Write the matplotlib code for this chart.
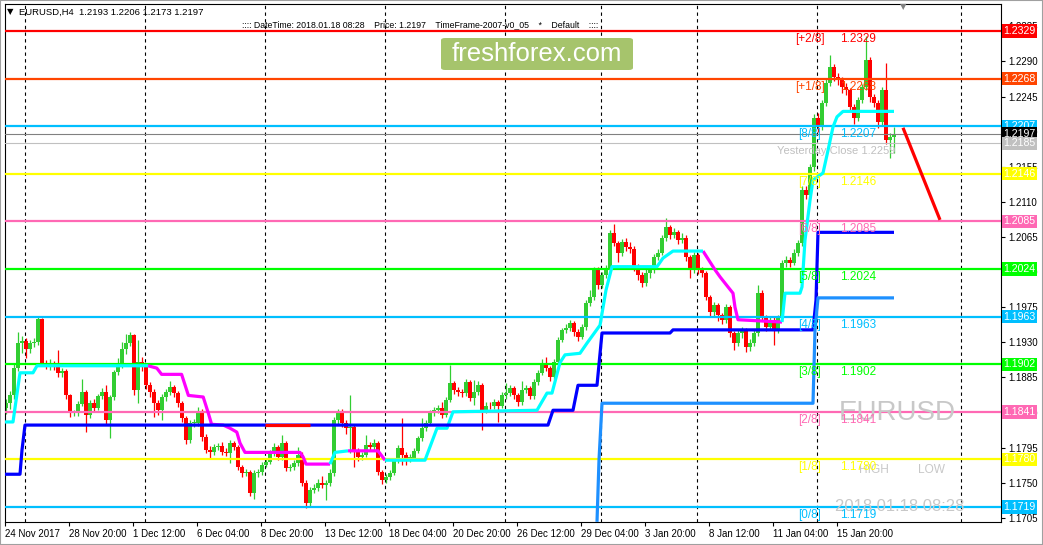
import numpy as np
import matplotlib
matplotlib.use('Agg')
import matplotlib.pyplot as plt
from matplotlib.patches import FancyBboxPatch, Rectangle
import matplotlib.transforms as mtransforms

plt.rcParams['font.family'] = ['Liberation Sans', 'DejaVu Sans']

# ---- EURUSD H4 candles (open = previous close) ----
first_open = 1.1846
closes = [1.1852, 1.1862, 1.1897, 1.1929, 1.1932, 1.1921, 1.1929, 1.1930, 1.1960, 1.1904,
          1.1901, 1.1902, 1.1900, 1.1891, 1.1893, 1.1862, 1.1839, 1.1839, 1.1851, 1.1866,
          1.1837, 1.1852, 1.1846, 1.1861, 1.1866, 1.1830, 1.1860, 1.1892, 1.1901, 1.1921,
          1.1929, 1.1939, 1.1869, 1.1905, 1.1898, 1.1875, 1.1866, 1.1852, 1.1843, 1.1860,
          1.1866, 1.1873, 1.1865, 1.1852, 1.1833, 1.1805, 1.1827, 1.1827, 1.1841, 1.1809,
          1.1792, 1.1790, 1.1796, 1.1797, 1.1790, 1.1788, 1.1801, 1.1796, 1.1770, 1.1763,
          1.1764, 1.1737, 1.1763, 1.1764, 1.1773, 1.1777, 1.1788, 1.1796, 1.1783, 1.1801,
          1.1769, 1.1770, 1.1775, 1.1786, 1.1750, 1.1724, 1.1741, 1.1743, 1.1750, 1.1747,
          1.1750, 1.1763, 1.1830, 1.1841, 1.1827, 1.1820, 1.1822, 1.1792, 1.1783, 1.1786,
          1.1798, 1.1796, 1.1801, 1.1764, 1.1754, 1.1757, 1.1763, 1.1779, 1.1795, 1.1786,
          1.1782, 1.1782, 1.1791, 1.1807, 1.1820, 1.1827, 1.1839, 1.1843, 1.1846, 1.1837,
          1.1856, 1.1878, 1.1869, 1.1866, 1.1865, 1.1879, 1.1859, 1.1866, 1.1875, 1.1843,
          1.1849, 1.1848, 1.1853, 1.1849, 1.1862, 1.1865, 1.1871, 1.1862, 1.1853, 1.1869,
          1.1871, 1.1861, 1.1879, 1.1891, 1.1904, 1.1897, 1.1886, 1.1905, 1.1933, 1.1946,
          1.1948, 1.1955, 1.1943, 1.1937, 1.1950, 1.1980, 1.1988, 1.2023, 1.2003, 1.2016,
          1.2025, 1.2070, 1.2057, 1.2045, 1.2059, 1.2052, 1.2050, 1.2027, 1.2016, 1.2006,
          1.2019, 1.2023, 1.2039, 1.2045, 1.2064, 1.2078, 1.2068, 1.2071, 1.2061, 1.2064,
          1.2039, 1.2023, 1.2042, 1.2023, 1.2019, 1.1988, 1.1969, 1.1978, 1.1965, 1.1959,
          1.1975, 1.1942, 1.1929, 1.1942, 1.1946, 1.1924, 1.1929, 1.1942, 1.1993, 1.1962,
          1.1950, 1.1959, 1.1946, 1.1961, 1.2032, 1.2036, 1.2032, 1.2045, 1.2057, 1.2125,
          1.2119, 1.2155, 1.2218, 1.2206, 1.2237, 1.2262, 1.2283, 1.2270, 1.2266, 1.2257,
          1.2253, 1.2232, 1.2218, 1.2241, 1.2257, 1.2292, 1.2244, 1.2237, 1.2212, 1.2253,
          1.2189, 1.2193, 1.2197]
highs = [1.1858, 1.1868, 1.1902, 1.1943, 1.1938, 1.1935, 1.1933, 1.1935, 1.1962, 1.1961,
         1.1908, 1.1909, 1.1906, 1.1920, 1.1897, 1.1896, 1.1864, 1.1843, 1.1855, 1.1883,
         1.1869, 1.1856, 1.1857, 1.1864, 1.1871, 1.1875, 1.1863, 1.1895, 1.1910, 1.1931,
         1.1941, 1.1943, 1.1941, 1.1933, 1.1911, 1.1901, 1.1879, 1.1870, 1.1856, 1.1864,
         1.1870, 1.1880, 1.1876, 1.1868, 1.1855, 1.1836, 1.1830, 1.1832, 1.1847, 1.1844,
         1.1812, 1.1797, 1.1800, 1.1801, 1.1802, 1.1794, 1.1805, 1.1803, 1.1799, 1.1773,
         1.1768, 1.1767, 1.1766, 1.1768, 1.1777, 1.1781, 1.1792, 1.1801, 1.1799, 1.1811,
         1.1803, 1.1774, 1.1779, 1.1796, 1.1789, 1.1753, 1.1745, 1.1748, 1.1755, 1.1759,
         1.1754, 1.1768, 1.1834, 1.1845, 1.1844, 1.1830, 1.1862, 1.1825, 1.1795, 1.1790,
         1.1811, 1.1802, 1.1806, 1.1804, 1.1767, 1.1761, 1.1766, 1.1782, 1.1799, 1.1833,
         1.1790, 1.1787, 1.1794, 1.1810, 1.1833, 1.1831, 1.1843, 1.1847, 1.1850, 1.1853,
         1.1860, 1.1901, 1.1881, 1.1873, 1.1870, 1.1883, 1.1882, 1.1882, 1.1880, 1.1878,
         1.1853, 1.1853, 1.1857, 1.1856, 1.1866, 1.1878, 1.1875, 1.1874, 1.1865, 1.1880,
         1.1876, 1.1874, 1.1883, 1.1895, 1.1909, 1.1911, 1.1900, 1.1909, 1.1937, 1.1949,
         1.1953, 1.1959, 1.1958, 1.1947, 1.1954, 1.1984, 1.1997, 1.2027, 1.2026, 1.2020,
         1.2029, 1.2074, 1.2082, 1.2060, 1.2063, 1.2064, 1.2058, 1.2053, 1.2031, 1.2020,
         1.2024, 1.2027, 1.2043, 1.2050, 1.2068, 1.2089, 1.2081, 1.2076, 1.2074, 1.2070,
         1.2067, 1.2042, 1.2046, 1.2045, 1.2027, 1.2022, 1.1991, 1.1982, 1.1981, 1.1968,
         1.1979, 1.1978, 1.1945, 1.1946, 1.1950, 1.1949, 1.1934, 1.1946, 1.2003, 1.1997,
         1.1965, 1.1963, 1.1962, 1.1965, 1.2036, 1.2041, 1.2040, 1.2049, 1.2061, 1.2130,
         1.2131, 1.2159, 1.2223, 1.2224, 1.2241, 1.2267, 1.2298, 1.2287, 1.2275, 1.2270,
         1.2262, 1.2256, 1.2236, 1.2245, 1.2261, 1.2323, 1.2296, 1.2248, 1.2240, 1.2257,
         1.2288, 1.2198, 1.2206]
lows = [1.1838, 1.1845, 1.1858, 1.1893, 1.1916, 1.1910, 1.1917, 1.1924, 1.1926, 1.1900,
        1.1896, 1.1895, 1.1894, 1.1885, 1.1885, 1.1858, 1.1834, 1.1835, 1.1836, 1.1848,
        1.1815, 1.1833, 1.1842, 1.1843, 1.1858, 1.1826, 1.1808, 1.1856, 1.1888, 1.1897,
        1.1915, 1.1925, 1.1862, 1.1852, 1.1893, 1.1870, 1.1860, 1.1834, 1.1837, 1.1830,
        1.1855, 1.1862, 1.1860, 1.1847, 1.1828, 1.1800, 1.1801, 1.1822, 1.1823, 1.1804,
        1.1788, 1.1782, 1.1786, 1.1792, 1.1786, 1.1784, 1.1776, 1.1792, 1.1766, 1.1758,
        1.1759, 1.1733, 1.1729, 1.1758, 1.1760, 1.1770, 1.1774, 1.1785, 1.1779, 1.1779,
        1.1765, 1.1765, 1.1766, 1.1771, 1.1746, 1.1718, 1.1720, 1.1737, 1.1739, 1.1743,
        1.1728, 1.1746, 1.1759, 1.1826, 1.1822, 1.1812, 1.1788, 1.1770, 1.1778, 1.1779,
        1.1783, 1.1791, 1.1792, 1.1760, 1.1749, 1.1750, 1.1753, 1.1760, 1.1776, 1.1773,
        1.1773, 1.1777, 1.1779, 1.1788, 1.1804, 1.1816, 1.1824, 1.1836, 1.1839, 1.1833,
        1.1834, 1.1853, 1.1864, 1.1861, 1.1860, 1.1861, 1.1855, 1.1850, 1.1862, 1.1818,
        1.1839, 1.1844, 1.1844, 1.1828, 1.1846, 1.1858, 1.1861, 1.1858, 1.1848, 1.1850,
        1.1865, 1.1857, 1.1858, 1.1876, 1.1888, 1.1893, 1.1881, 1.1883, 1.1902, 1.1930,
        1.1942, 1.1944, 1.1938, 1.1932, 1.1934, 1.1946, 1.1976, 1.1984, 1.1998, 1.2000,
        1.2012, 1.2021, 1.2053, 1.2033, 1.2041, 1.2047, 1.2045, 1.2022, 1.2010, 1.2001,
        1.2002, 1.2013, 1.2019, 1.2035, 1.2042, 1.2060, 1.2063, 1.2064, 1.2056, 1.2057,
        1.2034, 1.2012, 1.2019, 1.2018, 1.2014, 1.1984, 1.1963, 1.1962, 1.1958, 1.1953,
        1.1955, 1.1937, 1.1920, 1.1925, 1.1936, 1.1918, 1.1919, 1.1925, 1.1938, 1.1957,
        1.1944, 1.1946, 1.1927, 1.1942, 1.1957, 1.2027, 1.2027, 1.2029, 1.2041, 1.2053,
        1.2114, 1.2115, 1.2150, 1.2200, 1.2202, 1.2233, 1.2258, 1.2265, 1.2260, 1.2250,
        1.2247, 1.2226, 1.2210, 1.2214, 1.2237, 1.2253, 1.2238, 1.2231, 1.2205, 1.2208,
        1.2184, 1.2166, 1.2173]

# ---- Murrey math levels ----
level_names = ['[+2/8]', '[+1/8]', '[8/8]', '[7/8]', '[6/8]', '[5/8]', '[4/8]', '[3/8]', '[2/8]', '[1/8]', '[0/8]']
level_values = [1.2329, 1.2268, 1.2207, 1.2146, 1.2085, 1.2024, 1.1963, 1.1902, 1.1841, 1.1780, 1.1719]
level_colors = ['#ff0000', '#ff4500', '#00bfff', '#ffff00', '#ff69b4', '#00ff00', '#00bfff', '#00ff00', '#ff69b4', '#ffff00', '#00bfff']

bid_price = 1.2197
yest_line = 1.2185
yest_close = 1.2259

# ---- trailing stop / step indicator vertices (bar index, price) ----
cyan_parts = [
    ([-0.25, 1.75, 3.5, 6.75, 7.75, 35.5], [1.1828, 1.1828, 1.1891, 1.1891, 1.1900, 1.1900]),
    ([81, 82.25, 85.5], [1.1774, 1.1789, 1.1791]),
    ([94.75, 104.75, 107.75, 110.25, 111.75, 132.75, 135.25, 136.5, 138.5, 139.75, 143.5, 145.25,
      148.5, 150, 151.5, 162.75, 164.25, 166.75, 174.25],
     [1.1779, 1.1779, 1.1820, 1.1820, 1.1841, 1.1843, 1.1865, 1.1865, 1.1904, 1.1914, 1.1916, 1.1929,
      1.1952, 1.1997, 1.2027, 1.2027, 1.2038, 1.2047, 1.2047]),
    ([194, 194.75, 198.5, 199, 199.75, 201, 201.75, 204.25, 205.5, 206.75, 207.75, 209.25, 222],
     [1.1956, 1.1993, 1.1993, 1.2001, 1.2061, 1.2112, 1.2138, 1.2147, 1.2176, 1.2206, 1.2219, 1.2226, 1.2226]),
]
magenta_parts = [
    ([35.5, 37.7, 38.9, 43.9, 45.6, 49.3, 50.6, 51.4, 54.3, 56, 57.7, 58.5, 59.75, 73.5, 74.3, 75, 81],
     [1.1900, 1.1897, 1.1889, 1.1889, 1.1862, 1.1860, 1.1839, 1.1825, 1.1824, 1.1820, 1.1815, 1.1801,
      1.1789, 1.1789, 1.1783, 1.1774, 1.1774]),
    ([85.5, 93, 94.75], [1.1791, 1.1791, 1.1779]),
    ([174.25, 176, 177.25, 178.5, 180.5, 181.75, 182.25, 183, 194],
     [1.2047, 1.2033, 1.2023, 1.2014, 1.2001, 1.1993, 1.1975, 1.1959, 1.1956]),
]
blue_x = [-0.25, 3.5, 4, 4.75, 135.5, 136.75, 141.75, 143, 147.75, 149, 166, 166.75, 201.75, 202.5, 203, 222]
blue_y = [1.1761, 1.1761, 1.1792, 1.1824, 1.1824, 1.1843, 1.1843, 1.1875, 1.1875, 1.1942, 1.1942, 1.1946,
          1.1946, 1.1984, 1.2071, 1.2071]
red_seg_x = [64.75, 76]
red_seg_y = [1.1824, 1.1824]
dodger_x = [147.75, 148.25, 149, 201.75, 202.25, 203, 222]
dodger_y = [1.1700, 1.1779, 1.1852, 1.1852, 1.1946, 1.1987, 1.1987]
arrow_x = [224.25, 233.5]
arrow_y = [1.2205, 1.2087]

grid_bars = [4.75, 34.75, 64.75, 94.75, 124.75, 148.75, 172.75, 202.75, 238.75]
xtick_labels = ['24 Nov 2017', '28 Nov 20:00', '1 Dec 12:00', '6 Dec 04:00', '8 Dec 20:00', '13 Dec 12:00',
                '18 Dec 04:00', '20 Dec 20:00', '26 Dec 12:00', '29 Dec 04:00', '3 Jan 20:00', '8 Jan 12:00',
                '11 Jan 04:00', '15 Jan 20:00']
ytick_values = [1.1705, 1.1750, 1.1795, 1.1840, 1.1885, 1.1930, 1.1975, 1.2020, 1.2065, 1.2110,
                1.2155, 1.2200, 1.2245, 1.2290, 1.2335]

W, H = 1043, 545
fig = plt.figure(figsize=(W / 100, H / 100), dpi=100)
ax = fig.add_axes([5 / W, (H - 522) / H, (1001 - 5) / W, (522 - 4) / H])
ax.set_xlim(-0.25, 248.75)
ax.set_ylim(1.16998, 1.23636)

# candles
opens = [first_open] + closes[:-1]
xs = np.arange(len(closes))
o = np.array(opens)
c = np.array(closes)
up = c >= o
cols = np.where(up, '#32cd32', '#ff0000')
ax.vlines(xs, lows, highs, colors=cols, lw=0.9, zorder=2)
body_h = np.maximum(np.abs(c - o), 0.00008)
ax.bar(xs, body_h, bottom=np.minimum(o, c), width=0.76, color=cols, linewidth=0, zorder=2)

# grid
for g in grid_bars:
    ax.axvline(g, color='black', lw=0.8, ls=(0, (3, 3)), zorder=1)

# levels
for name, val, col in zip(level_names, level_values, level_colors):
    ax.axhline(val, color=col, lw=1.6, zorder=3)
    ax.annotate(name, (201, val), xytext=(0, -8), textcoords='offset pixels',
                ha='center', va='center', fontsize=8.5, color=col, zorder=6)
    ax.annotate('%.4f' % val, (208.5, val), xytext=(0, -8), textcoords='offset pixels',
                ha='left', va='center', fontsize=8.5, color=col, zorder=6)
ax.axhline(bid_price, color='#808080', lw=0.8, zorder=3)
ax.axhline(yest_line, color='#c0c0c0', lw=0.8, zorder=3)
ax.annotate('Yesterday Close %.4f' % yest_close, (192.75, yest_line), xytext=(0, -8),
            textcoords='offset pixels', ha='left', va='center', fontsize=8, color='#c0c0c0', zorder=6)

# indicator lines
for px, py in magenta_parts:
    ax.plot(px, py, color='#ff00ff', lw=2.3, solid_capstyle='butt', zorder=4)
for px, py in cyan_parts:
    ax.plot(px, py, color='#00ffff', lw=2.3, solid_capstyle='butt', zorder=4)
ax.plot(blue_x, blue_y, color='#0000ff', lw=2.3, solid_capstyle='butt', zorder=4)
ax.plot(red_seg_x, red_seg_y, color='#ff0000', lw=2.3, solid_capstyle='butt', zorder=4.1)
ax.plot(dodger_x, dodger_y, color='#1e90ff', lw=2.3, solid_capstyle='butt', zorder=4)
ax.plot(arrow_x, arrow_y, color='#ff0000', lw=2.3, solid_capstyle='butt', zorder=4)

# watermark texts
ax.text(222.9, 1.1839, 'EURUSD', fontsize=20, color='#c8c8c8', ha='center', va='center', zorder=5)
ax.text(217, 1.1767, 'HIGH', fontsize=8.6, color='#c8c8c8', ha='center', va='center', zorder=5)
ax.text(231.5, 1.1767, 'LOW', fontsize=8.6, color='#c8c8c8', ha='center', va='center', zorder=5)
ax.text(223.5, 1.1720, '2018.01.18 08:28', fontsize=12, color='#c8c8c8', ha='center', va='center', zorder=5)

# axes styling
for s in ax.spines.values():
    s.set_color('black')
    s.set_linewidth(0.8)
ax.set_xticks([16 * k - 0.25 for k in range(len(xtick_labels))])
ax.set_xticklabels(xtick_labels)
for lab in ax.get_xticklabels():
    lab.set_ha('left')
ax.set_yticks(ytick_values)
ax.set_yticklabels(['%.4f' % v for v in ytick_values])
ax.yaxis.tick_right()
ax.tick_params(axis='both', direction='out', length=3, width=0.8, labelsize=7, colors='black')
ax.tick_params(axis='x', pad=2)
ax.tick_params(axis='y', pad=2)

# price boxes on the right axis
trans = mtransforms.blended_transform_factory(ax.transAxes, ax.transData)
box_vals = level_values + [bid_price, yest_line]
box_cols = level_colors + ['#000000', '#c0c0c0']
for val, col in zip(box_vals, box_cols):
    ax.text(1.0025, val, '%.4f' % val, transform=trans, fontsize=7.6, color='white', ha='left', va='center',
            bbox=dict(boxstyle='square,pad=0.16', fc=col, ec='none'), clip_on=False, zorder=7)

# header
fig.text(7 / W, 1 - 12 / H, '\u25BC', fontsize=6, color='black', va='center', family='DejaVu Sans')
fig.text(19 / W, 1 - 12 / H, 'EURUSD,H4  1.2193 1.2206 1.2173 1.2197', fontsize=6.8, color='black', va='center')
fig.text(242 / W, 1 - 25 / H, ':::: DateTime: 2018.01.18 08:28    Price: 1.2197    TimeFrame-2007-v0_05    *    Default    ::::',
         fontsize=6.3, color='black', va='center')
fig.text(903 / W, 1 - 7 / H, '\u25BC', fontsize=6, color='#808080', ha='center', va='center', family='DejaVu Sans')

# logo
logo = FancyBboxPatch((441 / W, 1 - 70 / H), 192 / W, 32 / H, boxstyle='round,pad=0,rounding_size=0.004',
                      transform=fig.transFigure, fc='#a6c46c', ec='none', zorder=8)
fig.patches.append(logo)
fig.text(537 / W, 1 - 54 / H, 'freshforex.com', fontsize=18.5, color='white', ha='center', va='center', zorder=9)

fig.patches.append(Rectangle((0, 0), 1, 1, transform=fig.transFigure, fill=False, ec='#a0a0a0', lw=1.5))

fig.savefig('out.png', dpi=100)
